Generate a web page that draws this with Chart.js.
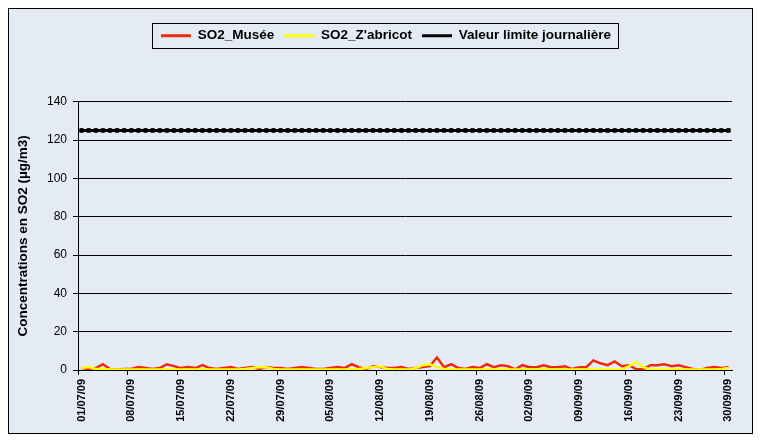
<!doctype html>
<html lang="fr">
  <head>
    <meta charset="utf-8">
    <title>SO2 - juillet à septembre 2009</title>
    <style>
      body { margin: 0; background: #fff; }
      #wrap { position: relative; width: 765px; height: 444px; }
    </style>
  </head>
  <body>
    <div id="wrap">
      <canvas id="myChart" width="765" height="444"></canvas>
    </div>

    <script src="https://cdn.jsdelivr.net/npm/chart.js"></script>
    <script>
        // dates (01/07/09 -> 30/09/09)
        var jours = [
            '01/07/09','02/07/09','03/07/09','04/07/09','05/07/09','06/07/09','07/07/09','08/07/09','09/07/09','10/07/09',
            '11/07/09','12/07/09','13/07/09','14/07/09','15/07/09','16/07/09','17/07/09','18/07/09','19/07/09','20/07/09',
            '21/07/09','22/07/09','23/07/09','24/07/09','25/07/09','26/07/09','27/07/09','28/07/09','29/07/09','30/07/09','31/07/09',
            '01/08/09','02/08/09','03/08/09','04/08/09','05/08/09','06/08/09','07/08/09','08/08/09','09/08/09','10/08/09',
            '11/08/09','12/08/09','13/08/09','14/08/09','15/08/09','16/08/09','17/08/09','18/08/09','19/08/09','20/08/09',
            '21/08/09','22/08/09','23/08/09','24/08/09','25/08/09','26/08/09','27/08/09','28/08/09','29/08/09','30/08/09','31/08/09',
            '01/09/09','02/09/09','03/09/09','04/09/09','05/09/09','06/09/09','07/09/09','08/09/09','09/09/09','10/09/09',
            '11/09/09','12/09/09','13/09/09','14/09/09','15/09/09','16/09/09','17/09/09','18/09/09','19/09/09','20/09/09',
            '21/09/09','22/09/09','23/09/09','24/09/09','25/09/09','26/09/09','27/09/09','28/09/09','29/09/09','30/09/09'
        ];

        var so2Musee = [
            1, 0.5, 1, 3, 0.5, 0.3, 0.5, 0.5, 1.5, 1,
            0.5, 1, 3, 2, 1, 1.5, 1, 2.5, 1, 0.5,
            1, 1.5, 0.5, 1, 1.5, 0.5, 1.5, 1, 1, 0.5, 1,
            1.5, 1, 0.5, 0.5, 1, 1.5, 1, 3, 1.5, 0.5,
            2, 1.5, 1, 1, 1.5, 0.5, 1, 1.5, 2, 6.5,
            1.5, 3, 1, 0.5, 1.5, 1, 3, 1.5, 2.5, 2, 0.3,
            2.5, 1.5, 1.5, 2.5, 1.5, 1.5, 2, 0.5, 1.5, 1.5,
            5, 3.5, 2.5, 4.5, 2, 2.5, 0.5, 0.3, 2.5, 2.5,
            3, 2, 2.5, 1.5, 0.5, 0, 1, 1.5, 1, 1.5
        ];

        var so2Zabricot = [
            1, 1.5, 0.5, 0.5, 0.2, 0.2, 0.2, 0.2, 0.2, 0.2,
            0.2, 0.2, 0.2, 0.2, 0.2, 0.2, 0.2, 0.2, 0.2, 0.2,
            0.2, 0.2, 0.2, 0.5, 1, 1.5, 1.5, 0.5, 0.2, 0.2, 0.2,
            0.2, 0.2, 0.2, 0.2, 0.2, 0.2, 0.2, 0.2, 0.5, 1,
            1.5, 2, 0.5, 0.2, 0.2, 0.2, 1, 2.5, 3, 1.5,
            0.5, 0.2, 0.2, 0.2, 0.2, 0.2, 0.2, 0.2, 0.2, 0.2, 0.2,
            0.2, 0.2, 0.2, 0.2, 0.2, 0.2, 0.2, 0.2, 0.2, 0.2,
            0.2, 0.2, 0.2, 0.2, 0.2, 2, 4, 1.5, 0.3, 0.2,
            0.2, 0.2, 0.2, 0.2, 0.2, 0.2, 0.2, 0.2, 0.5, 1
        ];

        var valeurLimite = 125;
        var limiteJour = jours.map(function(){ return valeurLimite; });

        var yTicks = [0, 20, 40, 60, 80, 100, 120, 140];

        var fond = '#e4ebf5';
        var police = '"Liberation Sans", Arial, sans-serif';

        // cadre + fond du graphique, cadre de la legende
        var cadre = {
            id: 'cadre',
            afterLayout: function(chart){
                // legende un peu decalee a droite comme dans l'original
                var lg = chart.legend, dx = 15;
                lg.left += dx; lg.right += dx;
                (lg.legendHitBoxes || []).forEach(function(h){ h.left += dx; });
            },
            beforeDraw: function(chart){
                var c = chart.ctx;
                c.save();
                c.fillStyle = fond;
                c.fillRect(8.5, 8.5, 744, 425);
                c.strokeStyle = '#000';
                c.lineWidth = 1;
                c.strokeRect(8.5, 8.5, 744, 425);
                c.restore();
            },
            afterDraw: function(chart){
                var boxes = chart.legend.legendHitBoxes;
                if (!boxes || !boxes.length) return;
                var l = Infinity, r = -Infinity, t = Infinity, b = -Infinity;
                boxes.forEach(function(h){
                    l = Math.min(l, h.left); r = Math.max(r, h.left + h.width);
                    t = Math.min(t, h.top); b = Math.max(b, h.top + h.height);
                });
                var c = chart.ctx;
                c.save();
                c.strokeStyle = '#000';
                c.lineWidth = 1;
                c.strokeRect(Math.round(l - 9) + 0.5, Math.round(t - 6) + 0.5, Math.round(r - l + 16), Math.round(b - t + 11));
                c.restore();
            }
        };

        const ctx = document.getElementById('myChart');
        new Chart(ctx, {
            type: 'line',
            data: {
                labels: jours,
                datasets: [
                    {
                        label: 'SO2_Musée',
                        data: so2Musee,
                        borderColor: '#ee2a08',
                        backgroundColor: '#ee2a08',
                        borderWidth: 2.5,
                        pointRadius: 0,
                        tension: 0,
                        order: 3
                    },
                    {
                        label: "SO2_Z'abricot",
                        data: so2Zabricot,
                        borderColor: '#ffff00',
                        backgroundColor: '#ffff00',
                        borderWidth: 2.5,
                        pointRadius: 0,
                        tension: 0,
                        order: 2
                    },
                    {
                        label: 'Valeur limite journalière',
                        data: limiteJour,
                        borderColor: '#000',
                        backgroundColor: '#000',
                        borderWidth: 3,
                        pointStyle: 'rect',
                        pointRadius: 2.5,
                        pointBorderColor: '#000',
                        pointBorderWidth: 1,
                        order: 1
                    }
                ]
            },
            options: {
                responsive: false,
                animation: false,
                layout: { padding: { left: 10, right: 33, top: 19, bottom: 10 } },
                font: { family: police },
                plugins: {
                    legend: {
                        weight: 3000,
                        labels: {
                            color: '#000',
                            font: { size: 13.5, weight: 'bold', family: police },
                            usePointStyle: true,
                            pointStyle: 'line',
                            pointStyleWidth: 30,
                            padding: 10,
                            sort: function(a, b){ return a.datasetIndex - b.datasetIndex; },
                            generateLabels: function(chart){
                                var items = Chart.defaults.plugins.legend.labels.generateLabels(chart);
                                items.forEach(function(it){
                                    var ds = chart.data.datasets[it.datasetIndex];
                                    it.lineWidth = 3;
                                    it.strokeStyle = ds.borderColor;
                                    it.fillStyle = ds.borderColor;
                                });
                                return items;
                            }
                        }
                    },
                    title: {
                        display: true,
                        text: ' ',
                        weight: 2000,
                        font: { size: 1 },
                        padding: { top: 0, bottom: 48 }
                    },
                    tooltip: { enabled: false }
                },
                scales: {
                    x: {
                        offset: true,
                        afterFit: function(s){ s.height = 64; },
                        grid: {
                            offset: true,
                            drawOnChartArea: false,
                            tickLength: 5,
                            tickColor: function(c){ return c.index % 7 === 0 ? '#000' : 'rgba(0,0,0,0)'; }
                        },
                        border: { color: '#000', width: 1 },
                        ticks: {
                            autoSkip: false,
                            minRotation: 90,
                            maxRotation: 90,
                            color: '#000',
                            padding: 4,
                            font: { size: 11, weight: 'bold', family: police },
                            callback: function(v, i){ return i % 7 === 0 ? jours[i] : ''; }
                        }
                    },
                    y: {
                        min: 0,
                        max: 140,
                        afterFit: function(s){ s.width = 68; },
                        afterBuildTicks: function(s){ s.ticks = yTicks.map(function(v){ return { value: v }; }); },
                        grid: { color: '#000', tickLength: 5, tickColor: '#000' },
                        border: { color: '#000', width: 1 },
                        ticks: {
                            color: '#000',
                            padding: 6,
                            font: { size: 12, family: police }
                        },
                        title: {
                            display: true,
                            text: 'Concentrations en SO2 (µg/m3)',
                            color: '#000',
                            font: { size: 13.5, weight: 'bold', family: police },
                            padding: { top: 5, bottom: 0 }
                        }
                    }
                }
            },
            plugins: [cadre]
        });
    </script>
  </body>
</html>
